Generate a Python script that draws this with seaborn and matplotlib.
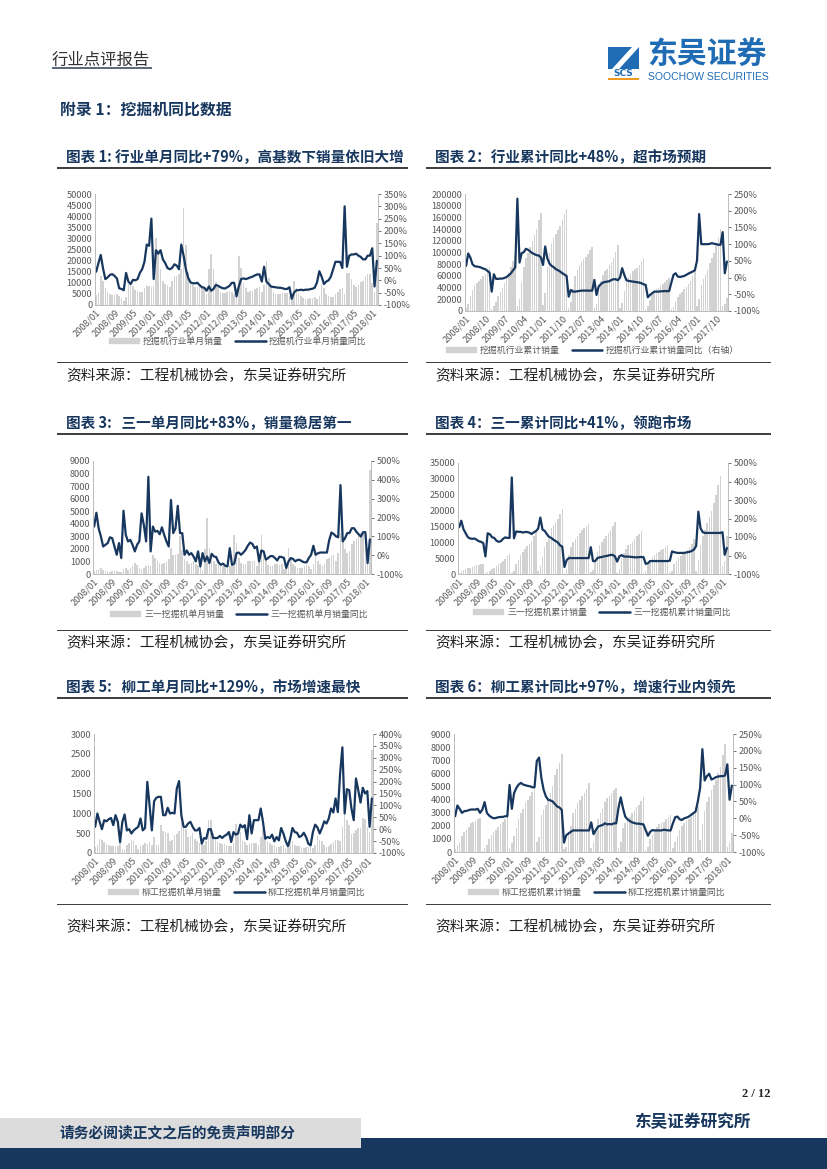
import numpy as np
import pandas as pd
import matplotlib
matplotlib.use("Agg")
import matplotlib.pyplot as plt
from matplotlib.lines import Line2D
from matplotlib.patches import Patch, Rectangle, Polygon
import seaborn as sns

sns.set_theme(style="white")
plt.rcParams['font.family'] = ['Noto Sans CJK SC', 'DejaVu Sans']

W, H = 827, 1169
NAVY = "#17375e"
BAR_GRAY = "#d2d2d2"
TICK_GRAY = "#595959"

# months 2008/01 - 2018/03
months = [f"{y}/{m:02d}" for y in range(2008, 2019) for m in range(1, 13)][:123]

# chart 1: industry single month
sales_1 = [4500, 5500, 13000, 11000, 7500, 6000, 5000, 4500, 4700, 5000, 4200, 3000,
           2000, 3800, 9500, 9000, 8500, 6800, 6300, 6000, 5800, 7700, 8500, 8500,
           8000, 8500, 30000, 25000, 16000, 11000, 9500, 9000, 8000, 11000, 13000, 13000,
           14000, 16000, 43500, 27000, 15000, 11000, 9000, 8000, 8000, 8000, 8500, 7000,
           5000, 16000, 23000, 16000, 10500, 8000, 6000, 5500, 5500, 6000, 6500, 6000,
           5000, 7500, 22000, 16500, 10000, 7500, 6000, 6200, 6500, 7000, 7500, 8000,
           6000, 9000, 20000, 12000, 8500, 6000, 5000, 4800, 5000, 5200, 5500, 5500,
           4000, 5000, 11000, 7500, 5000, 4000, 3200, 2800, 2800, 3000, 3300, 3500,
           2500, 4000, 9000, 7500, 5000, 4000, 3500, 3700, 5000, 6000, 7000, 7500,
           5000, 14500, 14300, 11500, 9000, 8000, 9000, 10500, 11000, 13000, 14000, 14000,
           10000, 6000, 37000]
yoy_1 = [35, 70, 103, 48, 5, 12, 22, 25, 18, 8, -32, -35,
         -40, 30, -5, -15, 2, 0, 5, 30, 45, 75, 145, 140,
         250, 5, 122, 108, 122, 85, 70, 50, 45, 50, 65, 60,
         45, 145, 100, 45, 10, -8, -12, -12, -10, -20, -28, -30,
         -42, -25, -42, -35, -19, -22, -28, -32, -33, -28, -22, -10,
         -10, -65, -25, 5, 8, 5, 8, 12, 15, 20, 24, 24,
         -5, 55, -5, -15, -25, -27, -28, -30, -30, -32, -35, -35,
         -28, -75, -50, -40, -40, -38, -40, -38, -38, -36, -34, -30,
         -8, 37, 15, -15, -5, 0, 15, 45, 75, 75, 75, 50,
         300, 55, 100, 105, 105, 108, 100, 95, 85, 85, 100, 100,
         130, -25, 79]

# chart 2: industry cumulative
sales_2 = [5000, 12000, 26000, 36000, 43000, 48000, 52000, 55000, 59000, 64000, 70000, 76000,
           3000, 8000, 15000, 25000, 33000, 40000, 48000, 56000, 65000, 75000, 85000, 95000,
           8000, 20000, 50000, 75000, 90000, 100000, 110000, 120000, 130000, 140000, 155000, 167000,
           10000, 30000, 75000, 100000, 115000, 125000, 132000, 138000, 145000, 155000, 165000, 175000,
           5000, 15000, 38000, 60000, 70000, 78000, 84000, 89000, 93000, 98000, 104000, 110000,
           5000, 12000, 36000, 52000, 62000, 68000, 72000, 78000, 84000, 90000, 101000, 113000,
           5000, 14000, 34000, 50000, 58000, 63000, 68000, 71000, 74000, 78000, 85000, 91000,
           3000, 8000, 19000, 28000, 34000, 38000, 40000, 43000, 46000, 49000, 53000, 56000,
           3000, 6000, 16000, 24000, 29000, 33000, 37000, 41000, 46000, 52000, 60000, 70000,
           9000, 20000, 45000, 54000, 62000, 70000, 82000, 90000, 100000, 112000, 125000, 140000,
           9000, 12000, 22000]
yoy_2 = [35, 72, 60, 40, 34, 33, 32, 30, 27, 25, 20, 15,
         -42, 10, -4, -4, -3, -3, -1, 2, 7, 13, 22, 30,
         236, 45, 73, 76, 86, 83, 78, 73, 70, 67, 66, 60,
         38, 93, 58, 42, 35, 31, 25, 22, 18, 13, 9, 5,
         -57, -37, -42, -42, -41, -40, -39, -39, -39, -39, -39, -39,
         -7, -52, -27, -20, -15, -13, -12, -11, -7, -5, -5, -8,
         0, 28, 8, -8, -10, -11, -12, -13, -14, -15, -17, -20,
         -22, -59, -52, -47, -42, -42, -42, -41, -41, -40, -41, -40,
         -15, 8, 13, 3, 2, 3, 5, 8, 12, 15, 18, 22,
         50, 190, 100, 100, 100, 100, 101, 103, 101, 100, 98, 98,
         136, 13, 48]

# chart 3: Sany single month
sales_3 = [250, 350, 400, 450, 300, 250, 200, 180, 200, 230, 200, 120,
           150, 400, 450, 350, 500, 600, 870, 700, 500, 400, 500, 600,
           700, 650, 1530, 1270, 1000, 850, 800, 850, 950, 1200, 2100, 1500,
           1500, 1600, 3000, 1900, 1200, 1000, 800, 850, 1000, 800, 750, 600,
           350, 2000, 4500, 2100, 1300, 1000, 800, 700, 600, 650, 600, 500,
           600, 900, 3100, 2450, 1300, 900, 800, 800, 1000, 1000, 1000, 1000,
           600, 1200, 3100, 1500, 1000, 700, 600, 650, 800, 800, 700, 800,
           400, 800, 2100, 1200, 800, 600, 500, 450, 500, 600, 700, 600,
           400, 800, 1500, 1000, 800, 600, 800, 1200, 1300, 1400, 1500, 1000,
           1700, 3300, 2900, 2000, 1700, 1800, 2400, 2600, 2800, 3000, 3300, 3200,
           2500, 1500, 8300]
yoy_3 = [152, 225, 143, 99, 46, 55, 64, 95, 90, 46, 2, 64,
         -15, 236, 108, 73, 81, 55, 20, 55, 73, 222, 160, 73,
         416, 20, 152, 125, 129, 111, 148, 108, 73, 46, 293, 117,
         143, 262, 117, 117, 2, 25, 2, 11, -7, -33, 20, -60,
         11, -33, -7, -42, 7, -7, -10, -38, -51, -45, -56, -60,
         37, -51, -45, 11, 14, 2, 14, 28, 50, 67, 60, 37,
         46, -33, 25, 20, -24, -15, -5, -5, -15, -28, -8, -10,
         -15, -68, -33, -15, -20, -33, -25, -25, -33, -38, -38, -15,
         2, 50, 2, 10, 14, 14, 14, 14, 80, 120, 112, 100,
         95, 372, 73, 90, 117, 118, 143, 143, 125, 111, 99, 122,
         122, -42, 83]

# chart 4: Sany cumulative
sales_4 = [300, 800, 1200, 1500, 1800, 2000, 2200, 2500, 2700, 2900, 3100, 3200,
           200, 600, 1000, 1500, 2000, 2500, 3000, 3500, 4100, 4800, 5600, 6400,
           300, 1000, 3000, 4500, 6000, 7000, 7800, 8700, 9500, 10500, 12000, 13500,
           1000, 2500, 5500, 8500, 10000, 11000, 14500, 15500, 16500, 17500, 19000, 20500,
           400, 1500, 6000, 8500, 10000, 11000, 12000, 13000, 13800, 14500, 15200, 15800,
           500, 1300, 4500, 7000, 9000, 10000, 11000, 12000, 13000, 14000, 15000, 16500,
           400, 1500, 5000, 6500, 8000, 9000, 9500, 10000, 11000, 12000, 12700, 13500,
           300, 1000, 3000, 4500, 5500, 6000, 6500, 7000, 7500, 8000, 8500, 9000,
           400, 1000, 3000, 4000, 5000, 5800, 6500, 7000, 7700, 8500, 9500, 11000,
           1000, 4500, 9000, 12000, 14000, 16000, 18000, 20000, 22500, 25000, 28000, 31000,
           2500, 4000, 12000]
yoy_4 = [153, 188, 142, 120, 99, 92, 90, 92, 85, 77, 74, 67,
         -5, 120, 115, 99, 95, 80, 74, 77, 90, 98, 95, 95,
         422, 93, 130, 128, 128, 124, 127, 127, 124, 116, 125, 132,
         145, 205, 140, 133, 115, 100, 95, 85, 78, 70, 55, 48,
         -62, -25, -14, -14, -14, -14, -14, -14, -14, -14, -14, -14,
         45, -30, -30, -14, -10, -8, -5, -3, 0, 3, 3, -5,
         -33, -5, 2, -5, -6, -6, -7, -8, -10, -10, -9, -8,
         -9, -45, -42, -30, -30, -30, -30, -30, -30, -30, -30, -30,
         -28, 22, 18, 15, 14, 14, 14, 15, 18, 20, 25, 32,
         52, 237, 147, 126, 122, 122, 122, 122, 122, 122, 122, 122,
         126, 4, 41]

# chart 5: Liugong single month
sales_5 = [150, 200, 360, 320, 280, 220, 200, 180, 170, 170, 180, 250,
           100, 80, 210, 250, 340, 300, 200, 100, 180, 200, 260, 230,
           280, 200, 410, 210, 190, 700, 550, 520, 500, 300, 330, 450,
           470, 560, 780, 700, 600, 400, 430, 500, 350, 300, 250, 200,
           200, 300, 840, 830, 500, 400, 280, 250, 220, 220, 200, 180,
           180, 260, 740, 500, 530, 300, 280, 200, 220, 240, 240, 260,
           200, 400, 600, 400, 300, 250, 200, 190, 160, 150, 180, 200,
           120, 250, 350, 300, 200, 180, 180, 150, 130, 140, 150, 150,
           130, 200, 430, 330, 300, 200, 150, 180, 230, 280, 320, 320,
           300, 650, 950, 820, 700, 480, 500, 570, 620, 630, 880, 850,
           650, 520, 2600]
yoy_5 = [10, 66, 31, 0, 38, 33, 42, 47, 17, 59, 31, -54,
         31, 62, -5, 0, -18, -5, 3, 10, 45, -5, 5, 199,
         100, -5, 118, 132, 136, 136, 59, 59, 90, 66, 69, 66,
         171, 202, 59, 10, 10, 24, 31, 10, -5, -5, 5, -61,
         -37, -40, 0, 0, -37, -37, -37, -28, -37, -28, -23, -12,
         -54, -12, -23, -18, 19, 8, 17, -42, 59, -18, 38, 38,
         38, 87, 31, -40, -33, -37, -23, -51, -33, -47, 5, -18,
         -50, -71, -40, 5, -12, -15, -33, -28, -15, -33, -61, -68,
         -12, 19, 8, -18, 5, 33, 24, 45, 87, 70, 129, 72,
         234, 344, 66, 168, 164, 87, 38, 213, 164, 112, 174, 150,
         160, 10, 129]

# chart 6: Liugong cumulative
sales_6 = [200, 500, 800, 1200, 1500, 1700, 1900, 2200, 2300, 2400, 2500, 2600,
           100, 300, 500, 1000, 1300, 1500, 1700, 1900, 2100, 2300, 2500, 2700,
           300, 700, 1200, 1800, 2500, 3000, 3300, 3800, 4000, 4300, 4600, 4900,
           800, 1150, 2800, 3200, 3600, 4000, 4500, 5000, 5900, 6300, 6800, 7450,
           200, 400, 1500, 2000, 3000, 3300, 3700, 4000, 4300, 4500, 4800, 5300,
           300, 800, 1800, 2500, 3000, 3300, 3800, 4100, 4300, 4500, 4700, 4900,
           300, 800, 1800, 2200, 2500, 2700, 3000, 3200, 3400, 3600, 3900, 4200,
           150, 400, 1000, 1300, 1700, 1900, 2100, 2200, 2300, 2500, 2700, 2800,
           300, 800, 1200, 1700, 2000, 2200, 2400, 2500, 2700, 2900, 3000, 3500,
           900, 2100, 3100, 3800, 4200, 4700, 5100, 5500, 6000, 6500, 7400, 8200,
           400, 800, 1450]
yoy_6 = [6, 38, 28, 16, 21, 22, 24, 26, 26, 26, 28, 16,
         26, 48, 16, 8, 3, 0, 1, 3, 4, 4, 6, 6,
         99, 28, 75, 90, 100, 105, 100, 98, 96, 95, 92, 92,
         170, 180, 120, 85, 65, 55, 53, 50, 42, 35, 32, 25,
         -72, -50, -45, -40, -36, -36, -36, -36, -36, -36, -36, -36,
         -12, -47, -35, -25, -22, -20, -15, -18, -17, -18, -15, -15,
         30, 62, 30, 5, -3, -8, -12, -14, -16, -16, -17, -18,
         -35, -52, -40, -35, -36, -36, -36, -36, -34, -35, -36, -36,
         -15, 3, 5, -3, -5, 0, 2, 5, 10, 15, 20, 50,
         90, 205, 112, 125, 132, 115, 118, 122, 124, 125, 125, 127,
         160, 55, 97]

titles = ["图表 1: 行业单月同比+79%，高基数下销量依旧大增", "图表 2：行业累计同比+48%，超市场预期",
          "图表 3:   三一单月同比+83%，销量稳居第一", "图表 4：三一累计同比+41%，领跑市场",
          "图表 5:   柳工单月同比+129%，市场增速最快", "图表 6：柳工累计同比+97%，增速行业内领先"]
bar_names = ["挖掘机行业单月销量", "挖掘机行业累计销量", "三一挖掘机单月销量",
             "三一挖掘机累计销量", "柳工挖掘机单月销量", "柳工挖掘机累计销量"]
line_names = ["挖掘机行业单月销量同比", "挖掘机行业累计销量同比（右轴）", "三一挖掘机单月销量同比",
              "三一挖掘机累计销量同比", "柳工挖掘机单月销量同比", "柳工挖掘机累计销量同比"]
source_text = "资料来源：工程机械协会，东吴证券研究所"

left_ticks = [np.arange(0, 50001, 5000), np.arange(0, 200001, 20000), np.arange(0, 9001, 1000),
              np.arange(0, 35001, 5000), np.arange(0, 3001, 500), np.arange(0, 9001, 1000)]
right_ticks = [np.arange(-100, 351, 50), np.arange(-100, 251, 50), np.arange(-100, 501, 100),
               np.arange(-100, 501, 100), np.arange(-100, 401, 50), np.arange(-100, 251, 50)]
label_steps = [8, 9, 8, 8, 8, 8]
all_sales = [sales_1, sales_2, sales_3, sales_4, sales_5, sales_6]
all_yoy = [yoy_1, yoy_2, yoy_3, yoy_4, yoy_5, yoy_6]

# plot boxes in pixels: left, top, right, bottom
boxes = [(95, 194, 378, 305), (465, 194, 728, 311), (93, 461, 371, 574),
         (458, 463, 728, 574), (94, 734, 373, 853), (454, 734, 733, 852)]
legend_pos = [(238, 341), (592, 350), (239, 614), (602, 612), (237, 892), (597, 892)]


def fx(x):
    return x / W


def fy(y):
    return 1 - y / H


fig = plt.figure(figsize=(W / 100, H / 100), dpi=100, facecolor="white")


def page_text(x, y, s, size, weight="normal", color="black", ha="left", **kw):
    fig.text(fx(x), fy(y), s, fontsize=size, fontweight=weight, color=color,
             ha=ha, va="center", **kw)


def page_rect(x0, y0, x1, y1, color):
    fig.add_artist(Rectangle((fx(x0), fy(y1)), (x1 - x0) / W, (y1 - y0) / H,
                             transform=fig.transFigure, color=color, lw=0))


def draw_panel(i):
    l, t, r, b = boxes[i]
    ax = fig.add_axes([fx(l), fy(b), (r - l) / W, (b - t) / H])
    df = pd.DataFrame({"month": months, "sales": all_sales[i], "yoy": all_yoy[i]})
    df["pos"] = df.index

    sns.barplot(data=df, x="month", y="sales", color=BAR_GRAY, saturation=1, width=0.7,
                edgecolor="none", linewidth=0, ax=ax)
    ax.set_ylim(left_ticks[i][0], left_ticks[i][-1])
    ax.set_yticks(left_ticks[i])
    ax.set_xlim(-0.5, len(df) - 0.5)
    shown = df["pos"].iloc[::label_steps[i]]
    ax.set_xticks(shown)
    ax.set_xticklabels(df["month"].iloc[::label_steps[i]], rotation=45, ha="right",
                       rotation_mode="anchor")
    ax.set_xlabel("")
    ax.set_ylabel("")
    ax.tick_params(axis="both", labelsize=6.6, colors=TICK_GRAY, length=0, pad=2)

    twin = ax.twinx()
    sns.lineplot(data=df, x="pos", y="yoy", color=NAVY, linewidth=1.6, ax=twin, legend=False)
    twin.set_ylim(right_ticks[i][0], right_ticks[i][-1])
    twin.set_yticks(right_ticks[i])
    twin.set_yticklabels([f"{v}%" for v in right_ticks[i]])
    twin.set_ylabel("")
    twin.tick_params(axis="y", labelsize=6.6, colors=TICK_GRAY, length=2, width=0.6, pad=2)

    for a in (ax, twin):
        for side in a.spines:
            a.spines[side].set_color("#bdbdbd")
            a.spines[side].set_linewidth(0.7)
        a.spines["top"].set_visible(False)

    handles = [Patch(color=BAR_GRAY, label=bar_names[i]),
               Line2D([], [], color=NAVY, lw=1.8, label=line_names[i])]
    lx, ly = legend_pos[i]
    fig.legend(handles=handles, loc="center", bbox_to_anchor=(fx(lx), fy(ly)), ncol=2, frameon=False,
               fontsize=6.4, labelcolor=TICK_GRAY, columnspacing=1.4, handlelength=3.4,
               handleheight=0.5, handletextpad=0.4, borderpad=0)


for i in range(6):
    draw_panel(i)

# panel titles, rules and sources
title_y = [157, 157, 423, 423, 687, 687]
source_y = [376, 376, 643, 643, 927, 927]
source_rule_y = [362, 362, 630, 630, 904, 904]
col_x = [(57, 408), (426, 771), (57, 408), (426, 771), (57, 408), (426, 771)]
for i in range(6):
    x0, x1 = col_x[i]
    page_text(x0 + 9, title_y[i], titles[i], 10.5, "bold", NAVY)
    page_rect(x0, title_y[i] + 9.5, x1, title_y[i] + 11.5, "#404040")
    page_rect(x0, source_rule_y[i], x1, source_rule_y[i] + 1, "#404040")
    page_text(x0 + 9, source_y[i], source_text, 10.6, "normal", "#222222")

# page header
page_text(52, 60, "行业点评报告", 11.8, "normal", "#333333")
page_rect(52, 67, 152, 69, "#5f6b7a")
page_text(60, 110, "附录 1：挖掘机同比数据", 11.4, "bold", NAVY)

# logo
LOGO_BLUE = "#1f6cb4"
page_rect(608, 47, 639, 69, LOGO_BLUE)
fig.add_artist(Polygon([(fx(612), fy(69)), (fx(632), fy(47)), (fx(639), fy(47)), (fx(619), fy(69))],
                       transform=fig.transFigure, color="white", lw=0))
page_text(623.5, 74, "SCS", 6.5, "bold", LOGO_BLUE, ha="center", family=["DejaVu Sans"])
page_rect(608, 78, 639, 80, "#ee9a22")
page_text(647, 55, "东吴证券", 21.5, "bold", LOGO_BLUE)
page_text(648, 77.5, "SOOCHOW SECURITIES", 7.5, "normal", LOGO_BLUE, family=["Liberation Sans"])

# footer
page_text(770, 1094, "2 / 12", 9, "bold", "#222222", ha="right", family=["Liberation Serif"])
page_text(750, 1122, "东吴证券研究所", 12, "bold", NAVY, ha="right")
page_rect(0, 1138, 827, 1169, NAVY)
page_rect(0, 1118, 361, 1148, "#dcdcdc")
page_text(59, 1132, "请务必阅读正文之后的免责声明部分", 10.6, "bold", NAVY)

fig.savefig("out.png", dpi=100)
